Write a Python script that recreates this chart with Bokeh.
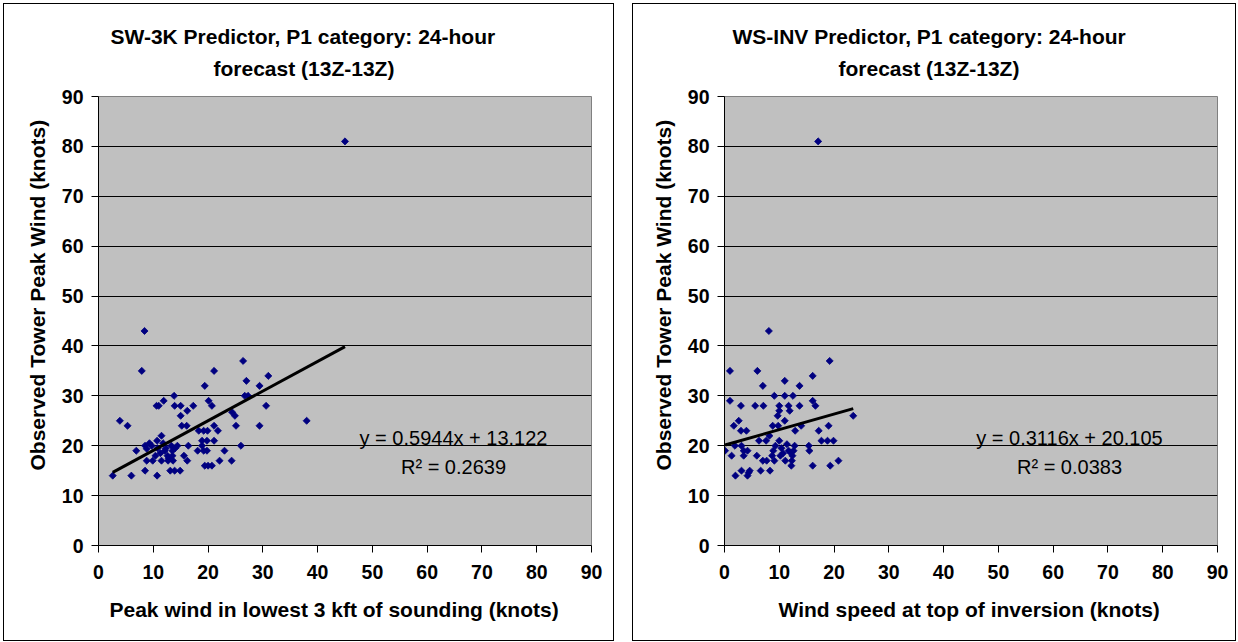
import math

from bokeh.embed import file_html
from bokeh.layouts import column, row
from bokeh.models import FixedTicker, Label, Spacer, Title
from bokeh.plotting import figure
from bokeh.resources import INLINE

# ---- data ----
# left chart: peak wind in lowest 3 kft of sounding vs observed tower peak wind
sw3k_x = [8.4, 7.9, 26.4, 21.1, 19.4, 27.0, 31.0, 29.4, 13.8, 26.7, 27.3, 11.9,
          10.6, 11.0, 13.9, 15.0, 17.3, 20.1, 20.7, 30.6, 16.2, 15.0, 24.4, 24.9,
          3.9, 5.3, 15.2, 16.1, 21.1, 25.1, 29.4, 38.0, 18.3, 19.2, 19.9, 21.8,
          11.5, 10.7, 18.9, 19.8, 21.1, 8.5, 9.7, 13.3, 14.4, 16.4, 18.9, 26.0,
          6.9, 8.8, 12.1, 13.5, 18.1, 19.2, 19.8, 23.0, 10.4, 12.6, 13.5, 15.6,
          8.8, 9.9, 11.5, 12.7, 13.6, 16.2, 22.1, 24.3, 19.4, 20.0, 20.7, 8.5,
          13.1, 13.9, 14.9, 2.6, 6.0, 10.7, 10.8, 11.3, 12.3, 12.8, 14.0, 11.8,
          9.3, 45.0]
sw3k_y = [43, 35, 37, 35, 32, 33, 34, 32, 30, 30, 30, 29,
          28, 28, 28, 28, 28, 29, 28, 28, 27, 26, 26.7, 26,
          25, 24, 24, 24, 24, 24, 24, 25, 23, 23, 23, 23,
          22, 21, 21, 21, 21, 20, 20, 20, 20, 20, 20, 20,
          19, 19.4, 19, 19, 19, 19, 19, 19, 18, 18, 18, 18,
          17, 17, 17, 17, 17, 17, 17, 17, 16, 16, 16, 15,
          15, 15, 15, 14, 14, 14, 19.5, 18.5, 19.5, 17.5, 19.5, 20.5,
          20.5, 81]
sw3k_slope, sw3k_icpt, sw3k_r2 = 0.5944, 13.122, 0.2639

# right chart: wind speed at top of inversion vs observed tower peak wind
wsinv_x = [8.1, 1.0, 6.0, 19.2, 7.0, 11.0, 13.7, 16.1, 9.1, 11.0, 12.5, 1.0,
           16.1, 3.0, 5.6, 7.1, 10.0, 11.7, 13.7, 16.6, 11.9, 10.0, 9.7, 23.5,
           11.0, 2.6, 1.7, 8.8, 9.8, 14.0, 19.0, 3.0, 4.0, 12.9, 17.2, 8.2,
           6.3, 7.6, 10.0, 17.7, 18.8, 19.9, 1.9, 3.1, 9.3, 12.8, 15.4, 0.1,
           4.2, 3.5, 8.9, 11.7, 12.6, 15.5, 1.3, 3.5, 5.9, 8.7, 10.2, 12.4,
           7.0, 7.7, 9.1, 11.1, 12.3, 20.8, 12.2, 16.1, 19.3, 3.1, 4.6, 6.6,
           8.3, 2.0, 4.2, 4.4, 10.4, 11.4, 10.7, 12.1, 17.1]
wsinv_y = [43, 35, 35, 37, 32, 33, 32, 34, 30, 30, 30, 29,
           29, 28, 28, 28, 28, 28, 28, 28, 27, 27, 26, 26,
           25, 25, 24, 24, 24, 24, 24, 23, 23, 23, 23, 22,
           21, 21, 21, 21, 21, 21, 20, 20, 20, 20, 20, 19,
           19, 19, 19, 19, 19, 19, 18, 18, 18, 18, 18, 18,
           17, 17, 17, 17, 17, 17, 16, 16, 16, 15, 15, 15,
           15, 14, 14, 14.6, 19.5, 20.3, 18.5, 18.6, 81]
wsinv_slope, wsinv_icpt, wsinv_r2 = 0.3116, 20.105, 0.0383

axis_ticks = [0, 10, 20, 30, 40, 50, 60, 70, 80, 90]

FONT = "Liberation Sans"


def side_title(p, text, place, offset, standoff, size="21px"):
    p.add_layout(Title(text=text, align="left", offset=offset, standoff=standoff,
                       text_font=FONT, text_font_size=size,
                       text_font_style="bold", text_color="black"), place)


def make_chart(xs, ys, slope, icpt, r2, title1, title2, xlabel, width,
               left_border, t1_off, t2_off, xlabel_off, eq_x):
    p = figure(width=width, height=638, x_range=(0, 90), y_range=(0, 90),
               output_backend="svg", toolbar_location=None,
               min_border_left=left_border,
               min_border_right=width - 2 - left_border - 491,
               min_border_top=92, min_border_bottom=97,
               background_fill_color="#C0C0C0", border_fill_color="white",
               outline_line_color="#808080",
               styles={"border": "1px solid black"})

    for ax in (p.xaxis, p.yaxis):
        ax.ticker = FixedTicker(ticks=axis_ticks)
        ax.major_label_text_font = FONT
        ax.major_label_text_font_size = "19.5px"
        ax.major_label_text_font_style = "bold"
        ax.major_label_text_color = "black"
        ax.axis_line_color = "black"
        ax.major_tick_line_color = "black"
        ax.major_tick_out = 7
        ax.major_tick_in = 0
        ax.minor_tick_line_color = None
    p.xaxis.major_label_standoff = 12
    p.yaxis.major_label_standoff = 8

    p.xgrid.grid_line_color = None
    p.ygrid.grid_line_color = "black"
    p.ygrid.ticker = FixedTicker(ticks=axis_ticks[1:])

    p.scatter(xs, ys, marker="square", size=5, angle=math.pi / 4,
              fill_color="#000080", line_color="#000080", line_width=0.8)

    # linear trend line as given by the chart's own equation
    x0, x1 = min(xs), max(xs)
    p.line([x0, x1], [slope * x0 + icpt, slope * x1 + icpt],
           line_color="black", line_width=3)

    # two-line chart title (first added sits nearest the plot area)
    side_title(p, " ", "above", 0, 2, size="8px")
    side_title(p, title2, "above", t2_off, 7)
    side_title(p, title1, "above", t1_off, 7)
    # axis titles
    side_title(p, "Observed Tower Peak Wind (knots)", "left", 75, 19)
    side_title(p, xlabel, "below", xlabel_off, 28)

    for txt, yy in ((f"y = {slope}x + {icpt}", 108), (f"R\u00b2 = {r2}", 79)):
        p.add_layout(Label(x=eq_x, y=yy, x_units="screen", y_units="screen", text=txt,
                           text_font=FONT, text_font_size="20px", text_align="center",
                           text_baseline="alphabetic", text_color="black"))
    return p


left = make_chart(sw3k_x, sw3k_y, sw3k_slope, sw3k_icpt, sw3k_r2,
                  "SW-3K Predictor, P1 category: 24-hour", "forecast (13Z-13Z)",
                  "Peak wind in lowest 3 kft of sounding (knots)", 611, 94,
                  12, 115, 11, 355)
right = make_chart(wsinv_x, wsinv_y, wsinv_slope, wsinv_icpt, wsinv_r2,
                   "WS-INV Predictor, P1 category: 24-hour", "forecast (13Z-13Z)",
                   "Wind speed at top of inversion (knots)", 604, 91,
                   8, 114, 54, 345)

layout = column(Spacer(height=3),
                row(Spacer(width=3), left, Spacer(width=18), right))

open("out.html", "w").write(file_html(layout, INLINE))
